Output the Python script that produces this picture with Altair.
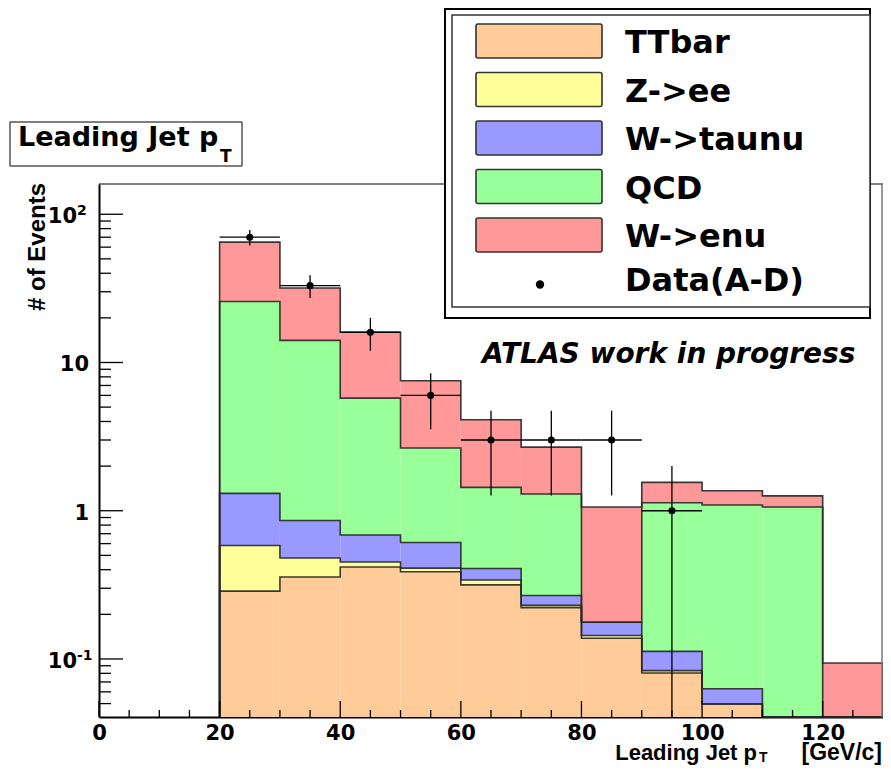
import altair as alt
import numpy as np
import pandas as pd

# ---------------- data ----------------
bin_lo = [20, 30, 40, 50, 60, 70, 80, 90, 100, 110, 120]
bin_width = 10
series = ["TTbar", "Z->ee", "W->taunu", "QCD", "W->enu"]
ttbar = [0.287, 0.357, 0.417, 0.388, 0.316, 0.222, 0.138, 0.0805, 0.0497, 0, 0]
zee = [0.296, 0.123, 0.034, 0.022, 0.025, 0.008, 0.006, 0.003, 0, 0, 0]
wtaunu = [0.727, 0.38, 0.235, 0.201, 0.067, 0.038, 0.033, 0.029, 0.0133, 0, 0]
qcd = [24.49, 13.24, 5.06, 2.04, 1.03, 1.03, 0, 1.02, 1.03, 1.06, 0]
wenu = [39.1, 17.7, 10.25, 4.88, 2.67, 1.39, 0.883, 0.42, 0.27, 0.20, 0.094]
colors = ["#FFCC99", "#FFFF99", "#9999FF", "#99FF99", "#FF9999"]

data_x = [25, 35, 45, 55, 65, 75, 85, 95]
data_n = [70, 33, 16, 6, 3, 3, 3, 1]

x_major = [0, 20, 40, 60, 80, 100, 120]
x_minor = [v for v in range(5, 130, 5) if v % 20 != 0]
y_major = [0.1, 1, 10, 100]
y_minor = [k * 10.0 ** e for e in (-2, -1, 0, 1) for k in range(2, 10)]
y_minor = [v for v in y_minor if 0.0406 < v < 160]

W, H = 784, 533
FONT = "DejaVu Sans"
SANS = "Liberation Sans"
FLOOR = 1e-3

xscale = alt.Scale(domain=[0, 130], nice=False, zero=False)
yscale = alt.Scale(type="log", domain=[0.0406, 160], nice=False, clamp=True)
xaxis = alt.Axis(values=x_major, title=None, format="d", labelFlush=False)
yaxis = alt.Axis(title=None, labels=False)

# ---------------- tables built from the arrays ----------------
vals = np.array([ttbar, zee, wtaunu, qcd, wenu], dtype=float)
cum = np.cumsum(vals, axis=0)
rows = []
for s in range(len(series)):
    for i, lo in enumerate(bin_lo):
        bottom = cum[s - 1][i] if s > 0 else 0.0
        rows.append({"series": series[s], "order": s, "lo": lo, "hi": lo + bin_width,
                     "bottom": max(bottom, FLOOR), "top": max(cum[s][i], FLOOR)})
fills = pd.DataFrame(rows)

line_rows = []
for s in range(len(series)):
    pts = [(bin_lo[0], FLOOR)] + [(lo, max(cum[s][i], FLOOR)) for i, lo in enumerate(bin_lo)]
    pts += [(bin_lo[-1] + bin_width, max(cum[s][-1], FLOOR)), (bin_lo[-1] + bin_width, FLOOR)]
    for k, (x, y) in enumerate(pts):
        line_rows.append({"series": series[s], "idx": k, "x": x, "y": y})
outlines = pd.DataFrame(line_rows)

dn = np.array(data_n, dtype=float)
pdata = pd.DataFrame({"x": data_x, "n": dn,
                      "lo": np.maximum(dn - np.sqrt(dn), FLOOR), "hi": dn + np.sqrt(dn),
                      "xl": np.array(data_x) - bin_width / 2, "xh": np.array(data_x) + bin_width / 2})

one = pd.DataFrame({"a": [0]})

def rect(x1, y1, x2, y2, **kw):
    return alt.Chart(one).mark_rect(**kw).encode(
        x=alt.value(x1), x2=alt.value(x2), y=alt.value(y1), y2=alt.value(y2))

def text(t, x, y, size, **kw):
    opts = dict(font=FONT, fontWeight="bold", align="left", baseline="alphabetic", color="black")
    opts.update(kw)
    return alt.Chart(one).mark_text(text=t, fontSize=size, **opts).encode(
        x=alt.value(x), y=alt.value(y))

layers = []

# stacked fills
layers.append(alt.Chart(fills).mark_rect(strokeWidth=0).encode(
    x=alt.X("lo:Q", scale=xscale, axis=xaxis),
    x2="hi:Q",
    y=alt.Y("bottom:Q", scale=yscale, axis=yaxis),
    y2="top:Q",
    color=alt.Color("series:N", scale=alt.Scale(domain=series, range=colors), legend=None),
))

# step outlines
layers.append(alt.Chart(outlines).mark_line(interpolate="step-after", color="#262626",
                                            strokeWidth=1.6, opacity=0.9).encode(
    x=alt.X("x:Q", scale=xscale, axis=xaxis),
    y=alt.Y("y:Q", scale=yscale, axis=yaxis),
    detail="series:N",
    order=alt.Order("idx:Q"),
))

# data error bars and points
layers.append(alt.Chart(pdata).mark_rule(color="black", strokeWidth=1.3).encode(
    x=alt.X("x:Q", scale=xscale, axis=xaxis), y=alt.Y("lo:Q", scale=yscale, axis=yaxis), y2="hi:Q"))
layers.append(alt.Chart(pdata).mark_rule(color="black", strokeWidth=1.3).encode(
    x=alt.X("xl:Q", scale=xscale, axis=xaxis), x2="xh:Q", y=alt.Y("n:Q", scale=yscale, axis=yaxis)))
layers.append(alt.Chart(pdata).mark_point(filled=True, color="black", size=50, opacity=1).encode(
    x=alt.X("x:Q", scale=xscale, axis=xaxis), y=alt.Y("n:Q", scale=yscale, axis=yaxis)))

# inner ticks
def xticks(values, length):
    return alt.Chart(pd.DataFrame({"v": values})).mark_rule(color="black", strokeWidth=1.3).encode(
        x=alt.X("v:Q", scale=xscale, axis=xaxis), y=alt.value(H), y2=alt.value(H - length))

def yticks(values, length):
    return alt.Chart(pd.DataFrame({"v": values})).mark_rule(color="black", strokeWidth=1.3).encode(
        y=alt.Y("v:Q", scale=yscale, axis=yaxis), x=alt.value(0), x2=alt.value(length))

layers += [xticks(x_major, 16), xticks(x_minor, 7), yticks(y_major, 24), yticks(y_minor, 12)]

# frame (top and right)
layers.append(alt.Chart(one).mark_rule(color="black", strokeWidth=1).encode(
    x=alt.value(0), x2=alt.value(W), y=alt.value(0)))
layers.append(alt.Chart(one).mark_rule(color="#777777", strokeWidth=1.5).encode(
    x=alt.value(W - 1), y=alt.value(0), y2=alt.value(H)))

# y tick labels with exponents
lab_plain = pd.DataFrame({"v": [10, 1], "t": ["10", "1"]})
lab_exp = pd.DataFrame({"v": [100, 0.1], "b": ["10", "10"], "e": ["2", "-1"]})
layers.append(alt.Chart(lab_plain).mark_text(font=FONT, fontWeight="bold", fontSize=21, align="right",
                                             baseline="alphabetic", dy=9, color="black").encode(
    y=alt.Y("v:Q", scale=yscale, axis=yaxis), x=alt.value(-10), text="t:N"))
layers.append(alt.Chart(lab_exp).mark_text(font=FONT, fontWeight="bold", fontSize=21, align="right",
                                           baseline="alphabetic", dy=9, color="black").encode(
    y=alt.Y("v:Q", scale=yscale, axis=yaxis), x=alt.value(-22), text="b:N"))
layers.append(alt.Chart(lab_exp).mark_text(font=FONT, fontWeight="bold", fontSize=14, align="left",
                                           baseline="alphabetic", dy=1, color="black").encode(
    y=alt.Y("v:Q", scale=yscale, axis=yaxis), x=alt.value(-22), text="e:N"))

# axis titles
layers.append(text("# of Events", -54, -1, 24, angle=270, align="right", font=SANS))
layers.append(text("Leading Jet p", 658, 576, 22, align="right", font=SANS))
layers.append(text("T", 660, 578, 14, font=SANS))
layers.append(text("[GeV/c]", 783, 576, 23, align="right", font=SANS))

# ATLAS label
layers.append(text("ATLAS work in progress", 383, 179, 28, fontStyle="italic"))

# title box
layers.append(rect(-89, -62, 143, -18, fill="white", stroke="black", strokeWidth=1))
layers.append(text("Leading Jet p", -81, -38, 27))
layers.append(text("T", 121, -22, 17))

# legend
layers.append(rect(346, -175, 771, 134, fill="white", stroke="black", strokeWidth=2))
layers.append(rect(353, -169, 771, 123, fill="white", stroke="#333333", strokeWidth=1.5))
legend_names = series + ["Data(A-D)"]
for i, name in enumerate(legend_names):
    cy = -143 + 48.5 * i
    if i < len(series):
        layers.append(rect(377, cy - 17, 503, cy + 17, fill=colors[i], stroke="#333333",
                           strokeWidth=1.6, cornerRadius=2))
    else:
        layers.append(alt.Chart(one).mark_point(filled=True, color="black", size=70, opacity=1).encode(
            x=alt.value(441), y=alt.value(cy + 1)))
    layers.append(text(name, 526, cy + (12 if i < len(series) else 7), 32))

chart = alt.layer(*layers).properties(
    width=W, height=H,
    autosize=alt.AutoSizeParams(type="none"),
    padding={"left": 91, "top": 176, "right": 0, "bottom": 49},
).configure_view(stroke=None).configure_axis(
    grid=False, ticks=False, domainColor="black", domainWidth=2, zindex=1,
    labelFont=FONT, labelFontWeight="bold", labelFontSize=21, labelColor="black",
    labelPadding=5, labelBaseline="top",
)

chart.save("out.html", embed_options={"renderer": "svg", "actions": False})
